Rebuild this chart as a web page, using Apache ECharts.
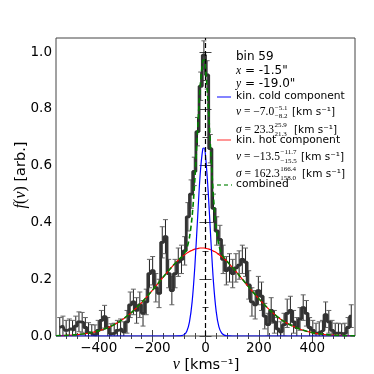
<!DOCTYPE html>
<html>
<head>
<meta charset="utf-8">
<script src="https://cdn.jsdelivr.net/npm/echarts@6/dist/echarts.min.js"></script>
<style>
html, body { margin: 0; padding: 0; background: #fff; }
#chart { width: 374px; height: 374px; }
</style>
</head>
<body>
<div id="chart"></div>
<script>
// LOSVD histogram (bin centres in km/s, normalised f(v), 1-sigma errors)
var binCenters = [
  -546,-534,-522,-510,-498,-486,-474,-462,-450,-438,
  -426,-414,-402,-390,-378,-366,-354,-342,-330,-318,
  -306,-294,-282,-270,-258,-246,-234,-222,-210,-198,
  -186,-174,-162,-150,-138,-126,-114,-102,-90,-78,
  -66,-54,-42,-30,-18,-6,6,18,30,42,
  54,66,78,90,102,114,126,138,150,162,
  174,186,198,210,222,234,246,258,270,282,
  294,306,318,330,342,354,366,378,390,402,
  414,426,438,450,462,474,486,498,510,522,
  534,546
];
var binValues = [
  0.03,0.035,0.02,0.025,0.02,0.035,0.05,0.048,0.03,0.012,
  0.005,0.004,0.02,0.055,0.068,0.03,0.008,0.01,0.02,0.025,
  0.015,0.05,0.11,0.12,0.09,0.11,0.08,0.12,0.22,0.23,
  0.17,0.15,0.33,0.35,0.22,0.16,0.22,0.26,0.27,0.30,
  0.42,0.50,0.58,0.72,0.88,0.99,0.92,0.66,0.45,0.37,
  0.34,0.27,0.23,0.24,0.22,0.24,0.25,0.27,0.26,0.18,
  0.12,0.11,0.16,0.14,0.07,0.04,0.09,0.05,0.025,0.015,
  0.04,0.08,0.09,0.05,0.03,0.06,0.10,0.08,0.03,0.02,
  0.01,0.015,0.02,0.075,0.05,0.02,0.01,0.01,0.008,0.01,
  0.03,0.07
];
var binErrors = [
  0.035,0.035,0.035,0.035,0.035,0.035,0.035,0.035,0.035,0.035,
  0.035,0.035,0.035,0.035,0.04,0.035,0.035,0.035,0.035,0.035,
  0.035,0.04,0.045,0.045,0.045,0.045,0.045,0.045,0.05,0.05,
  0.05,0.05,0.055,0.06,0.05,0.05,0.05,0.05,0.05,0.05,
  0.05,0.05,0.05,0.05,0.05,0.05,0.05,0.05,0.05,0.05,
  0.05,0.05,0.05,0.05,0.05,0.05,0.05,0.05,0.05,0.05,
  0.05,0.05,0.05,0.05,0.045,0.04,0.045,0.04,0.04,0.035,
  0.04,0.05,0.05,0.04,0.035,0.04,0.045,0.045,0.035,0.035,
  0.035,0.035,0.035,0.045,0.04,0.035,0.035,0.035,0.035,0.035,
  0.035,0.04
];

// fitted components (shared velocity grid)
var modelV = [-560,-520,-480,-440,-400,-360,-320,-280,-240,-200,-160,-120,
  -100,-90,-80,-70,-60,-50,-40,-30,-20,-10,-5,0,10,20,30,40,50,60,70,80,90,100,
  120,160,200,240,280,320,360,400,440,480,520,560];
var coldF = [0,0,0,0,0,0,0,0,0,0,0,0,
  0.0002,0.0012,0.0049,0.017,0.050,0.121,0.244,0.409,0.569,0.660,0.6625,0.636,0.510,0.340,0.188,0.087,0.033,0.011,0.003,0.0006,0.0001,0,
  0,0,0,0,0,0,0,0,0,0,0,0];
var hotF = [0.0011,0.0024,0.0050,0.0098,0.0182,0.0317,0.0521,0.0805,0.117,0.160,0.206,0.250,
  0.269,0.277,0.285,0.292,0.298,0.302,0.306,0.308,0.310,0.310,0.310,0.309,0.307,0.304,0.299,0.294,0.287,0.280,0.272,0.263,0.253,0.243,
  0.221,0.175,0.131,0.092,0.060,0.038,0.022,0.012,0.006,0.003,0.0014,0.0006];
var combinedF = [0.0011,0.0024,0.0050,0.0098,0.0182,0.0317,0.0521,0.0805,0.117,0.160,0.206,0.250,
  0.269,0.278,0.290,0.309,0.348,0.423,0.550,0.717,0.879,0.970,0.9725,0.945,0.817,0.644,0.487,0.381,0.320,0.291,0.275,0.264,0.253,0.243,
  0.221,0.175,0.131,0.092,0.060,0.038,0.022,0.012,0.006,0.003,0.0014,0.0006];
var zeroLine = 0;

// ticks
var xMajorTicks = [-400,-200,0,200,400];
var xMinorTicks = [-520,-480,-440,-360,-320,-280,-240,-160,-120,-80,-40,40,80,120,160,240,280,320,360,440,480,520];
var yMajorTicks = [0,0.2,0.4,0.6,0.8,1.0];
var yMinorTicks = [0.1,0.3,0.5,0.7,0.9];

var SANS = 'DejaVu Sans';
var SERIF = 'Liberation Serif';

function pairs(xs, ys) {
  var out = [];
  for (var i = 0; i < xs.length; i++) out.push([xs[i], ys[i]]);
  return out;
}

var errData = [];
for (var i = 0; i < binCenters.length; i++) {
  errData.push([binCenters[i], binValues[i] - binErrors[i], binValues[i] + binErrors[i]]);
}

function xAxisDef(pos, ticks, len, labels) {
  return {
    type: 'value', position: pos, min: -560, max: 560,
    axisLine: { show: false }, splitLine: { show: false },
    axisTick: { show: true, inside: true, length: len, customValues: ticks,
      lineStyle: { color: '#444', width: 1 } },
    axisLabel: labels ? {
      show: true, customValues: ticks, margin: 5, color: '#000',
      fontFamily: SANS, fontSize: 13.5,
      formatter: function (v) { return String(v).replace('-', '\u2212'); }
    } : { show: false }
  };
}
function yAxisDef(pos, ticks, len, labels) {
  return {
    type: 'value', position: pos, min: 0, max: 1.05,
    axisLine: { show: false }, splitLine: { show: false },
    axisTick: { show: true, inside: true, length: len, customValues: ticks,
      lineStyle: { color: '#444', width: 1 } },
    axisLabel: labels ? {
      show: true, customValues: ticks, margin: 4, color: '#000',
      fontFamily: SANS, fontSize: 13.5,
      formatter: function (v) { return v.toFixed(1); }
    } : { show: false }
  };
}

var chart = echarts.init(document.getElementById('chart'));

// text helpers for the annotation block
var measureCtx = document.createElement('canvas').getContext('2d');
function textWidth(font, s) { measureCtx.font = font; return measureCtx.measureText(s).width; }

var MATH = 11.5;
var mathRich = {
  i: { fontFamily: SERIF, fontStyle: 'italic', fontSize: MATH, fill: '#000' },
  r: { fontFamily: SERIF, fontSize: MATH, fill: '#000' }
};
function txt(x, y, text, size, font) {
  return { type: 'text', x: x, y: y, z: 100, silent: true,
    style: { text: text, fill: '#000', font: size + 'px "' + (font || SANS) + '"',
      align: 'left', verticalAlign: 'middle', rich: mathRich } };
}
// symbol + value with stacked upper/lower limits, then units at unitX
function mathLine(x, y, sym, val, up, lo, unitX) {
  var w = textWidth('italic ' + MATH + 'px "' + SERIF + '"', sym) +
          textWidth(MATH + 'px "' + SERIF + '"', val);
  return [
    txt(x, y, '{i|' + sym + '}{r|' + val + '}', MATH, SERIF),
    txt(x + w + 0.5, y - 4, up, 7, SERIF),
    txt(x + w + 0.5, y + 4.5, lo, 7, SERIF),
    txt(unitX, y + 0.5, '[km s\u207B\u00B9]', 10.5)
  ];
}

var graphics = [
  // axis titles
  { type: 'text', x: 21, y: 175, rotation: Math.PI / 2, silent: true,
    style: { text: '{i|f}{r|(}{i|v}{r|)} [arb.]', fill: '#000', font: '14.5px "' + SANS + '"',
      align: 'center', verticalAlign: 'middle',
      rich: { i: { fontFamily: SERIF, fontStyle: 'italic', fontSize: 16 },
              r: { fontFamily: SERIF, fontSize: 16 } } } },
  { type: 'text', x: 206, y: 365, silent: true,
    style: { text: '{i|v} [kms\u207B\u00B9]', fill: '#000', font: '14.5px "' + SANS + '"',
      align: 'center', verticalAlign: 'middle',
      rich: { i: { fontFamily: SERIF, fontStyle: 'italic', fontSize: 16 } } } },

  txt(236, 57, 'bin 59', 12),
  txt(236, 70.5, '{i|x} = -1.5"', 12),
  txt(236, 83.5, '{i|y} = -19.0"', 12),
  { type: 'line', silent: true, shape: { x1: 217, y1: 97, x2: 231, y2: 97 },
    style: { stroke: '#3030ff', lineWidth: 1.2 } },
  txt(236, 96, 'kin. cold component', 10.7),
  { type: 'line', silent: true, shape: { x1: 217, y1: 140, x2: 231, y2: 140 },
    style: { stroke: '#ff5050', lineWidth: 1.2 } },
  txt(236, 140.5, 'kin. hot component', 10.7),
  { type: 'line', silent: true, shape: { x1: 217, y1: 185, x2: 232, y2: 185 },
    style: { stroke: '#40a040', lineWidth: 1.5, lineDash: [4, 3] } },
  txt(236, 184.5, 'combined', 10.7)
];
graphics = graphics
  .concat(mathLine(236, 112, 'v', ' = \u22127.0', '\u22125.1', '\u22128.2', 292))
  .concat(mathLine(236, 129.5, '\u03C3', ' = 23.3', '25.9', '21.3', 294))
  .concat(mathLine(236, 156.5, 'v', ' = \u221213.5', '\u221211.7', '\u221215.5', 301))
  .concat(mathLine(236, 173.5, '\u03C3', ' = 162.3', '166.4', '158.0', 302));

var option = {
  animation: false,
  backgroundColor: '#fff',
  grid: { left: 56, right: 19, top: 38, bottom: 38, show: true,
    borderColor: '#444', borderWidth: 1, containLabel: false, outerBoundsMode: 'none' },
  xAxis: [
    xAxisDef('bottom', xMajorTicks, 6, true),
    xAxisDef('bottom', xMinorTicks, 3, false),
    xAxisDef('top', xMajorTicks, 6, false),
    xAxisDef('top', xMinorTicks, 3, false)
  ],
  yAxis: [
    yAxisDef('left', yMajorTicks, 6, true),
    yAxisDef('left', yMinorTicks, 3, false),
    yAxisDef('right', yMajorTicks, 6, false),
    yAxisDef('right', yMinorTicks, 3, false)
  ],
  series: [
    {
      name: 'errors', type: 'custom', z: 2, clip: true,
      data: errData,
      renderItem: function (params, api) {
        var top = api.coord([api.value(0), api.value(2)]);
        var bot = api.coord([api.value(0), api.value(1)]);
        var w = 2.5;
        return { type: 'group', children: [
          { type: 'line', shape: { x1: top[0], y1: top[1], x2: bot[0], y2: bot[1] },
            style: { stroke: '#222', lineWidth: 1 } },
          { type: 'line', shape: { x1: top[0] - w, y1: top[1], x2: top[0] + w, y2: top[1] },
            style: { stroke: '#666', lineWidth: 1 } },
          { type: 'line', shape: { x1: bot[0] - w, y1: bot[1], x2: bot[0] + w, y2: bot[1] },
            style: { stroke: '#666', lineWidth: 1 } }
        ] };
      }
    },
    {
      name: 'losvd', type: 'line', step: 'middle', z: 3, showSymbol: false,
      data: pairs(binCenters, binValues),
      lineStyle: { color: '#333', width: 2.8 },
      markLine: {
        silent: true, symbol: 'none', label: { show: false },
        lineStyle: { color: '#000', type: [5, 3], width: 1.2 },
        data: [{ xAxis: zeroLine }]
      }
    },
    {
      name: 'kin. hot component', type: 'line', z: 4, showSymbol: false, smooth: 0.3,
      data: pairs(modelV, hotF),
      lineStyle: { color: '#ff0000', width: 1.2 }
    },
    {
      name: 'kin. cold component', type: 'line', z: 4, showSymbol: false, smooth: 0.3,
      data: pairs(modelV, coldF),
      lineStyle: { color: '#0000ff', width: 1.2 }
    },
    {
      name: 'combined', type: 'line', z: 5, showSymbol: false, smooth: 0.3,
      data: pairs(modelV, combinedF),
      lineStyle: { color: '#008000', width: 1.6, type: [5, 3] }
    }
  ],
  graphic: graphics
};

chart.setOption(option);
</script>
</body>
</html>
